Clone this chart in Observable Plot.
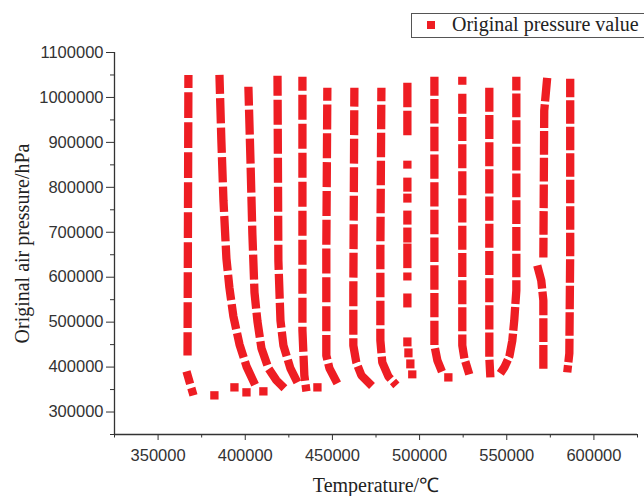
<!DOCTYPE html>
<html>
<head>
<meta charset="utf-8">
<script src="https://cdn.jsdelivr.net/npm/d3@7"></script>
<script src="https://cdn.jsdelivr.net/npm/@observablehq/plot@0.6"></script>
<style>
  body { margin: 0; background: #fff; overflow: hidden; }
  #wrap { position: relative; width: 644px; height: 496px; }
  #legend {
    position: absolute; left: 411px; top: 13px; width: 260px; height: 25px;
    border: 1px solid #555; background: #fff; box-sizing: border-box;
    font-family: "Liberation Serif", "Times New Roman", serif; font-size: 20px; color: #222;
  }
  #legend .sw { position: absolute; left: 15px; top: 7px; width: 8px; height: 8px; background: #ee1d23; }
  #legend .lb { position: absolute; left: 40px; top: -1px; white-space: nowrap; }
  g[aria-label="x-axis label"] text, g[aria-label="y-axis label"] text {
    font-family: "Liberation Serif", "Times New Roman", serif; font-size: 20px; fill: #222;
  }
</style>
</head>
<body>
<div id="wrap"><div id="chart"></div>
<div id="legend"><span class="sw"></span><span class="lb">Original pressure value</span></div>
</div>
<script>
// ---------- data (Temperature, Original air pressure) ----------
const xMajorTicks = [350000, 400000, 450000, 500000, 550000, 600000];
const xMinorTicks = [325000, 375000, 425000, 475000, 525000, 575000, 625000];
const yMajorTicks = [300000, 400000, 500000, 600000, 700000, 800000, 900000, 1000000, 1100000];
const yMinorTicks = [250000, 350000, 450000, 550000, 650000, 750000, 850000, 950000, 1050000];

const curve01 = [
  [[367400, 1050000], [366900, 426000]],
  [[366300, 390400], [370300, 337100]]
];
const curve02 = [
  [[385200, 1050000], [386300, 903800], [387500, 770500], [389200, 641600], [390900, 577100],
   [393200, 512700], [396700, 450500], [400700, 401600], [405800, 359300]]
];
const curve03 = [
  [[401800, 1023800], [403000, 859300], [404100, 694900], [405300, 566000], [407000, 501600],
   [409300, 441600], [413300, 397100], [417900, 370400], [422500, 352700]]
];
const curve04 = [
  [[418500, 1048200], [419000, 637100], [420200, 503800], [421900, 448200], [425900, 397100], [429900, 366000]]
];
const curve05 = [
  [[432800, 1046000], [432800, 481600], [433900, 381600], [435100, 346000]]
];
const curve06 = [
  [[447100, 1021600], [446500, 659300], [446500, 426000], [448300, 397100], [452800, 363800]]
];
const curve07 = [
  [[462600, 1021600], [462000, 570400], [462000, 448200], [463700, 410500], [466600, 381600], [472900, 357100]]
];
const curve08 = [
  [[478100, 1021600], [477500, 659300], [477500, 459300], [478600, 410500], [482100, 379300], [486700, 359300]]
];
const curve09 = [
  [[493000, 1032700], [493000, 914900]],
  [[493000, 859300], [493000, 841600]],
  [[493000, 821600], [493000, 790400]],
  [[493000, 786000], [493000, 766000]],
  [[493000, 748200], [493000, 717100]],
  [[493000, 710500], [493000, 677100]],
  [[493000, 674900], [493000, 617100]],
  [[493000, 610500], [493000, 592700]],
  [[493000, 563800], [493000, 532700]],
  [[493000, 466000], [493000, 446000]],
  [[493600, 441600], [493600, 421600]],
  [[494700, 417100], [494700, 397100]],
  [[495800, 392700], [495800, 374900]]
];
const curve10 = [
  [[508500, 1046000], [508500, 659300], [508500, 448200], [510200, 414900], [513000, 388200]]
];
const curve11 = [
  [[524500, 1046000], [524500, 1028200]],
  [[524500, 1008200], [524500, 659300], [524500, 448200], [525700, 419300], [528500, 383800]]
];
const curve12 = [
  [[540000, 1021600], [540000, 659300], [540000, 421600], [540600, 377100]]
];
const curve13 = [
  [[555500, 1046000], [555500, 770500], [555500, 570400], [554300, 503800], [553200, 459300],
   [551500, 423800], [548600, 399300], [546300, 386000]]
];
const curve14 = [
  [[573200, 1043800], [571500, 970400], [571000, 643800]],
  [[567500, 626000], [569800, 592700], [571000, 548200], [571000, 394900]]
];
const curve15 = [
  [[586400, 1041600], [586400, 659300], [585900, 430500], [584700, 388200]]
];
const isolatedPoints = [
  [382300, 337100], [393800, 354900], [400700, 343800], [410400, 346000],
  [441400, 354900], [516500, 377100]
];

// ---------- styling ----------
const red = "#ee1d23";
const curves = [curve01, curve02, curve03, curve04, curve05, curve06, curve07, curve08,
                curve09, curve10, curve11, curve12, curve13, curve14, curve15];
// dash length, gap length, dash offset (px) per curve
const dashStyle = [
  [25.7, 4.3, 12.7], [25.3, 4.2, 6.3], [25, 4, 6], [25, 4, 5], [25, 4, 11],
  [25, 3.8, 12], [24.9, 3.6, 6], [24.5, 3.5, 11], [24.6, 3.4, 0], [24.4, 3.3, 5.4],
  [24, 3.2, 4], [24.1, 3.1, 0], [23.7, 3, 10], [23.7, 3, 0], [23.5, 3, 5]
];

const lineMarks = curves.map((c, i) => {
  const rows = c.flatMap((seg, s) => seg.map(([t, p]) => ({t, p, s})));
  const [d, g, o] = dashStyle[i];
  return Plot.line(rows, {
    x: "t", y: "p", z: "s", stroke: red, strokeWidth: 8.3,
    strokeLinecap: "butt", strokeLinejoin: "bevel",
    strokeDasharray: `${d},${g}`, strokeDashoffset: o
  });
});

const axisColor = "#333";
const chart = Plot.plot({
  width: 644, height: 496,
  marginLeft: 114, marginRight: 7, marginTop: 52, marginBottom: 62,
  style: {fontFamily: "'Liberation Sans', Arial, sans-serif", fontSize: "16.5px", color: axisColor, background: "#fff"},
  x: {domain: [325000, 625000]},
  y: {domain: [250000, 1100000]},
  marks: [
    Plot.axisX({ticks: xMajorTicks, tickFormat: d3.format("d"), tickSize: 6, tickPadding: 9,
      label: "Temperature/℃", labelArrow: "none", labelAnchor: "center", labelOffset: 57, stroke: axisColor}),
    Plot.axisX({ticks: xMinorTicks, tickFormat: () => "", tickSize: 3.5, label: null, stroke: axisColor}),
    Plot.axisY({ticks: yMajorTicks, tickFormat: d3.format("d"), tickSize: 8, tickPadding: 3,
      label: "Original air pressure/hPa", labelArrow: "none", labelAnchor: "center", labelOffset: 100, stroke: axisColor}),
    Plot.axisY({ticks: yMinorTicks, tickFormat: () => "", tickSize: 4, label: null, stroke: axisColor}),
    Plot.ruleY([250000], {stroke: axisColor, strokeWidth: 1.3}),
    Plot.ruleX([325000], {stroke: axisColor, strokeWidth: 1.3}),
    ...lineMarks,
    Plot.dot(isolatedPoints, {x: d => d[0], y: d => d[1], symbol: "square", r: 4.7, fill: red, stroke: null})
  ]
});
document.getElementById("chart").appendChild(chart);
</script>
</body>
</html>
